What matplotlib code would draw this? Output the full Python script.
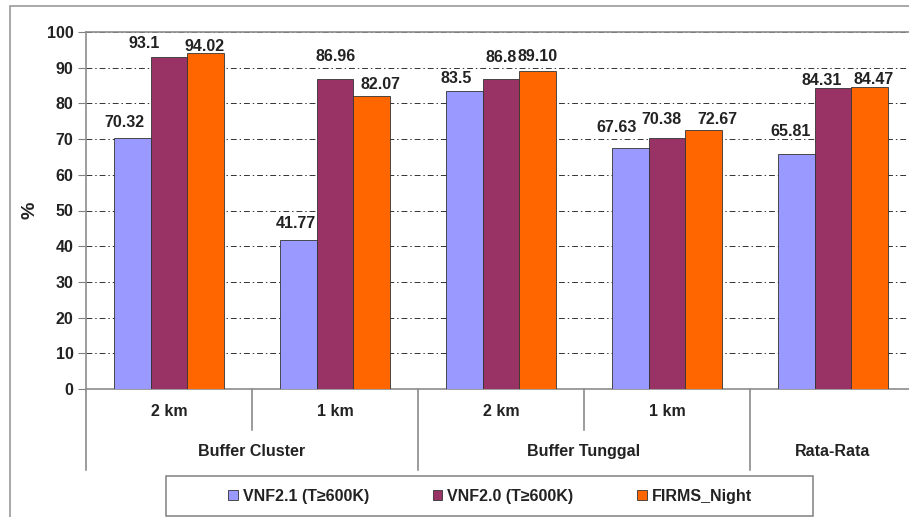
import matplotlib.pyplot as plt
from matplotlib.patches import Rectangle
import numpy as np

plt.rcParams['font.family'] = ['Liberation Sans', 'DejaVu Sans']
plt.rcParams['font.weight'] = 'bold'

# data
sub_labels = ["2 km", "1 km", "2 km", "1 km", ""]
group_labels = ["Buffer Cluster", "Buffer Tunggal", "Rata-Rata"]
group_pos = [0.5, 2.5, 4.0]
series_names = ["VNF2.1 (T\u2265600K)", "VNF2.0 (T\u2265600K)", "FIRMS_Night"]
vnf21 = ["70.32", "41.77", "83.5", "67.63", "65.81"]
vnf20 = ["93.1", "86.96", "86.8", "70.38", "84.31"]
firms = ["94.02", "82.07", "89.10", "72.67", "84.47"]
colors = ["#9999FF", "#993366", "#FF6600"]

# hand-placed value labels: (dx, dy) in pixels from the bar top
label_offsets = [
    [(-8, 15), (-3, 16), (-8, 12), (-14, 20), (-6, 23)],
    [(-25, 13), (1, 22), (0, 22), (-6, 18), (-11, 8)],
    [(-1, 7), (9, 12), (0, 14), (14, 10), (4, 8)],
]

FS = 11.5
fig = plt.figure(figsize=(9.09, 5.17), dpi=100)
W, H = 909, 517
ax = fig.add_axes([86 / W, 1 - 389 / H, 830 / W, 357 / H])

# outer chart frame
fig.patches.append(Rectangle((10 / W, -0.1), 1.2, 1 - 6 / H + 0.1, transform=fig.transFigure,
                             fill=False, edgecolor='#9a9a9a', linewidth=1.2))

x = np.arange(len(sub_labels))
bw = 0.22
for i, (vals, col, name) in enumerate(zip([vnf21, vnf20, firms], colors, series_names)):
    nums = [float(v) for v in vals]
    bars = ax.bar(x + (i - 1) * bw, nums, bw, color=col, edgecolor='#333333',
                  linewidth=0.6, label=name, zorder=3)
    for b, txt, off in zip(bars, vals, label_offsets[i]):
        ax.annotate(txt, (b.get_x() + b.get_width() / 2, b.get_height()),
                    xytext=off, textcoords='offset pixels', ha='center', va='center',
                    fontsize=FS, fontweight='bold', color='#222222', zorder=5)

ax.set_xlim(-0.5, 4.5)
ax.set_ylim(0, 100)
ax.set_yticks(range(0, 101, 10))
ax.tick_params(axis='y', labelsize=FS, length=6, color='#808080', pad=3, labelcolor='#222222')
for t in ax.get_yticklabels():
    t.set_fontweight('bold')
ax.set_xticks([])
ax.yaxis.grid(True, color='#333333', linestyle=(0, (6, 3, 1.5, 3)), linewidth=0.7, zorder=0)
ax.set_axisbelow(True)
ax.spines['right'].set_visible(False)
for s in ['left', 'top', 'bottom']:
    ax.spines[s].set_color('#8c8c8c')
    ax.spines[s].set_linewidth(1.2)

ax.set_ylabel('%', fontsize=14, fontweight='bold', labelpad=6, color='#222222')

# category separators below the axis
trans = ax.get_xaxis_transform()
sep_x = [-0.5, 0.5, 1.5, 2.5, 3.5]
sep_len = [-0.227, -0.115, -0.227, -0.115, -0.227]
for sx, sl in zip(sep_x, sep_len):
    ax.plot([sx, sx], [0, sl], transform=trans, color='#808080', linewidth=1.1, clip_on=False)
for xi, lab in zip(x, sub_labels):
    ax.text(xi, -0.062, lab, transform=trans, ha='center', va='center',
            fontsize=FS, fontweight='bold', color='#222222')
for gp, lab in zip(group_pos, group_labels):
    ax.text(gp, -0.176, lab, transform=trans, ha='center', va='center',
            fontsize=FS, fontweight='bold', color='#222222')

# legend box drawn separately so it can be wider than its entries
fig.patches.append(Rectangle((166 / W, 1 - 516 / H), 647 / W, 40 / H, transform=fig.transFigure,
                             fill=False, edgecolor='#808080', linewidth=1.1))
leg = fig.legend(loc='center', ncol=3, bbox_to_anchor=(490 / W, 1 - 496 / H),
                 frameon=False, prop={'weight': 'bold', 'size': FS},
                 handlelength=0.6, handleheight=0.6, handletextpad=0.3,
                 columnspacing=4.0, borderaxespad=0)
for t in leg.get_texts():
    t.set_color('#222222')

fig.savefig('out.png', dpi=100)
